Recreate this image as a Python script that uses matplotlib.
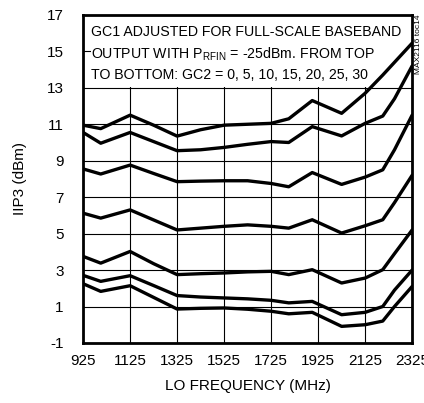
import matplotlib
matplotlib.use("Agg")
import matplotlib.pyplot as plt
from matplotlib.patches import Rectangle

plt.rcParams["font.family"] = ["Liberation Sans Narrow", "Liberation Sans", "DejaVu Sans"]
plt.rcParams["mathtext.default"] = "regular"
plt.rcParams["axes.unicode_minus"] = False

# LO frequency (MHz) sample points
freq = [925, 1000, 1125, 1225, 1325, 1425, 1525, 1625, 1725, 1800, 1900, 2025, 2125, 2200, 2250, 2325]

# IIP3 (dBm), GC2 = 0, 5, 10, 15, 20, 25, 30 (top to bottom)
gc2_0 = [10.95, 10.76, 11.5, 10.95, 10.35, 10.7, 10.95, 11.0, 11.05, 11.3, 12.3, 11.6, 12.7, 13.7, 14.4, 15.45]
gc2_5 = [10.55, 9.96, 10.55, 10.05, 9.55, 9.6, 9.73, 9.9, 10.05, 10.0, 10.87, 10.36, 11.05, 11.45, 12.4, 14.2]
gc2_10 = [8.55, 8.27, 8.76, 8.3, 7.85, 7.88, 7.9, 7.9, 7.75, 7.57, 8.35, 7.7, 8.1, 8.5, 9.6, 11.5]
gc2_15 = [6.12, 5.85, 6.3, 5.75, 5.2, 5.3, 5.4, 5.48, 5.4, 5.3, 5.76, 5.03, 5.43, 5.76, 6.7, 8.2]
gc2_20 = [3.75, 3.38, 4.02, 3.35, 2.75, 2.8, 2.84, 2.9, 2.93, 2.75, 3.02, 2.29, 2.56, 3.02, 3.9, 5.2]
gc2_25 = [2.71, 2.38, 2.69, 2.15, 1.6, 1.52, 1.47, 1.42, 1.34, 1.2, 1.28, 0.55, 0.68, 1.0, 1.9, 3.0]
gc2_30 = [2.25, 1.83, 2.14, 1.5, 0.86, 0.9, 0.92, 0.85, 0.74, 0.6, 0.68, -0.09, 0.0, 0.2, 1.0, 2.1]
curves = [gc2_0, gc2_5, gc2_10, gc2_15, gc2_20, gc2_25, gc2_30]

xticks = [925, 1125, 1325, 1525, 1725, 1925, 2125, 2325]
yticks = [-1, 1, 3, 5, 7, 9, 11, 13, 15, 17]

fig = plt.figure(figsize=(4.24, 4.03), dpi=100)
ax = fig.add_axes([0.196, 0.149, 0.776, 0.814])

for c in curves:
    ax.plot(freq, c, color="black", linewidth=2.4, solid_capstyle="round", zorder=3)

ax.set_xlim(925, 2325)
ax.set_ylim(-1, 17)
ax.set_xticks(xticks)
ax.set_yticks(yticks)
ax.grid(True, color="black", linewidth=0.8)
ax.set_axisbelow(True)
ax.tick_params(axis="x", length=0, labelsize=11, pad=8)
ax.tick_params(axis="y", length=0, labelsize=11, pad=14)

for s in ax.spines.values():
    s.set_linewidth(2)

# white note box hides the grid in the upper area
ax.add_patch(Rectangle((960, 13.05), 1365, 3.95, facecolor="white", edgecolor="none", zorder=2))
ax.text(960, 16.45,
        "GC1 ADJUSTED FOR FULL-SCALE BASEBAND\nOUTPUT WITH P$_{RFIN}$ = -25dBm. FROM TOP\nTO BOTTOM: GC2 = 0, 5, 10, 15, 20, 25, 30",
        fontsize=10.2, va="top", ha="left", linespacing=1.5, zorder=4)

ax.set_xlabel("LO FREQUENCY (MHz)", fontsize=11, labelpad=8)
ax.set_ylabel("IIP3 (dBm)", fontsize=11, labelpad=14)

fig.text(0.978, 0.963, "MAX2116 toc14", rotation=90, fontsize=6, va="top", ha="left")

fig.savefig("out.png", dpi=100)
